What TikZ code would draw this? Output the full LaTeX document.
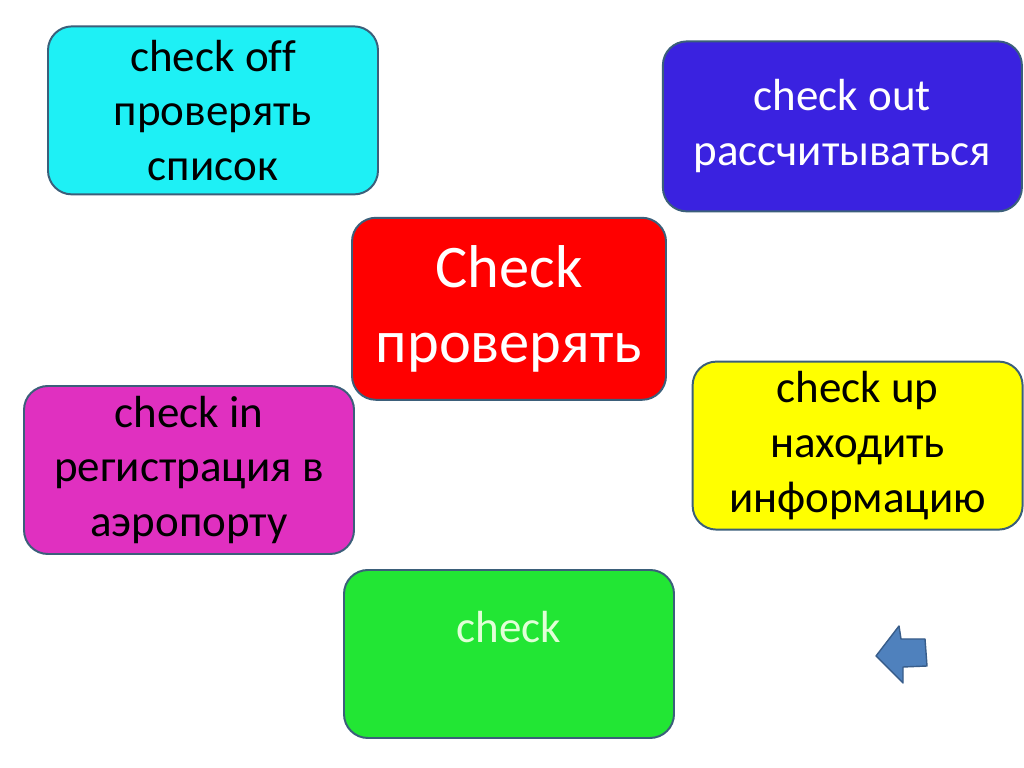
\documentclass[tikz,border=0pt]{standalone}
\usepackage{fontspec}
\setmainfont[Ligatures=NoCommon]{Carlito}
\usepackage{xcolor}
\usepackage{tikz}
\definecolor{edge}{RGB}{59,95,122}
\definecolor{aqua}{RGB}{30,240,245}
\definecolor{indigo}{RGB}{58,34,224}
\definecolor{scarlet}{RGB}{255,0,0}
\definecolor{orchid}{RGB}{224,48,192}
\definecolor{lemon}{RGB}{255,255,0}
\definecolor{lime}{RGB}{34,230,52}
\definecolor{paleg}{RGB}{225,255,215}
\definecolor{steel}{RGB}{79,129,189}
\definecolor{steeld}{RGB}{56,93,138}

\begin{document}
\begin{tikzpicture}[
      card/.style={draw=edge,line width=1.4pt,rounded corners=17pt,inner sep=0pt,
                   minimum width=8.25cm,minimum height=4.2cm,align=center,
                   font=\fontsize{32}{39}\selectfont},
    ]
    \useasboundingbox[fill=white] (0,0) rectangle (25.6,19.2);

    \node[card,fill=aqua] (off) at (5.325,16.44)
      {check off\\проверять\\список};
    \node[card,fill=indigo,text=white,minimum width=8.975cm,minimum height=4.25cm] (out) at (21.06,16.04)
      {check out\\рассчитываться};
    \node[card,fill=scarlet,text=white,minimum width=7.85cm,minimum height=4.55cm,
          font=\fontsize{43}{53}\selectfont] (check) at (12.725,11.48)
      {Check\\проверять};
    \node[card,fill=orchid] (in) at (4.725,7.45)
      {check in\\регистрация в\\аэропорту};
    \node[card,fill=lemon] (up) at (21.44,8.06)
      {check up\\находить\\информацию};
    \node[card,fill=lime,text=paleg] (blank) at (12.725,2.85)
      {check\\\mbox{}};

    % back button
    \draw[draw=steeld,line width=1pt,fill=steel,line join=round]
      (21.9,2.8) -- (22.475,3.55) -- (22.525,3.225) -- (23.125,3.225)
      -- (23.175,2.55) -- (22.575,2.525) -- (22.575,2.125) -- cycle;
  \end{tikzpicture}
\end{document}
